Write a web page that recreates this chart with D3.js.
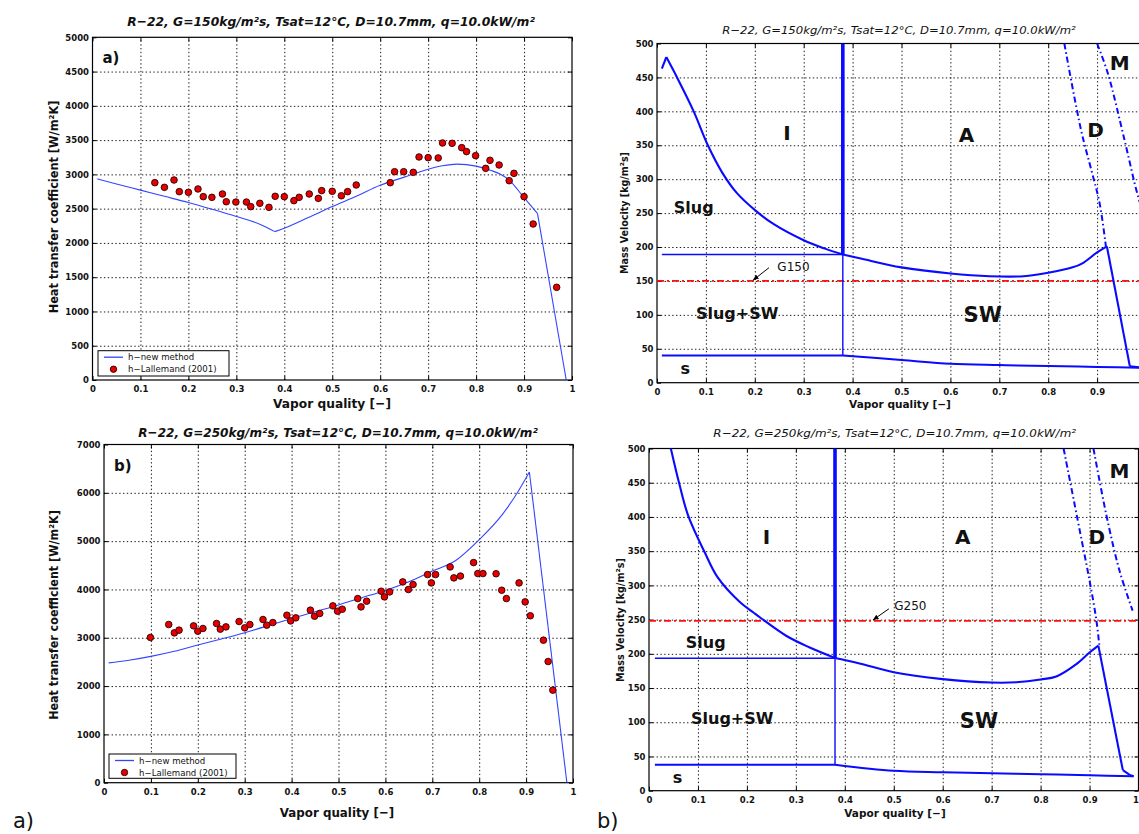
<!DOCTYPE html>
<html>
<head>
<meta charset="utf-8">
<script src="https://cdn.jsdelivr.net/npm/d3@7"></script>
<style>
body { margin: 0; background: #fff; }
svg { display: block; }
text { font-family: "DejaVu Sans", sans-serif; fill: #111; }
</style>
</head>
<body>
<svg id="fig" width="1139" height="834"></svg>
<script>
// ---- data ----
var qualityTicks = [0, 0.1, 0.2, 0.3, 0.4, 0.5, 0.6, 0.7, 0.8, 0.9, 1];
var hTicks150 = [0, 500, 1000, 1500, 2000, 2500, 3000, 3500, 4000, 4500, 5000];
var hTicks250 = [0, 1000, 2000, 3000, 4000, 5000, 6000, 7000];
var gTicks = [0, 50, 100, 150, 200, 250, 300, 350, 400, 450, 500];

// h-new method (G=150)
var hNew150 = [[0.01, 2935], [0.05, 2860], [0.1, 2770], [0.15, 2680], [0.2, 2590], [0.25, 2490],
  [0.3, 2385], [0.35, 2270], [0.38, 2165], [0.4, 2215], [0.45, 2370], [0.5, 2530], [0.55, 2680],
  [0.6, 2840], [0.65, 2960], [0.7, 3075], [0.73, 3125], [0.76, 3150], [0.8, 3120], [0.83, 3060],
  [0.85, 3005], [0.87, 2910], [0.9, 2660], [0.928, 2430], [0.988, 0]];
var hNewKinks150 = [0.38, 0.928];
// h-Lallemand (2001), G=150
var lallemand150 = [[0.130, 2879], [0.150, 2811], [0.170, 2918], [0.181, 2748], [0.200, 2738],
  [0.220, 2787], [0.231, 2675], [0.249, 2665], [0.271, 2714], [0.279, 2601], [0.299, 2596],
  [0.321, 2596], [0.330, 2529], [0.349, 2578], [0.368, 2519], [0.381, 2680], [0.400, 2675],
  [0.420, 2617], [0.431, 2665], [0.452, 2714], [0.471, 2650], [0.478, 2763], [0.500, 2753],
  [0.519, 2688], [0.532, 2748], [0.550, 2845], [0.621, 2879], [0.630, 3039], [0.649, 3039],
  [0.669, 3030], [0.681, 3254], [0.700, 3244], [0.721, 3240], [0.730, 3458], [0.750, 3453],
  [0.770, 3390], [0.780, 3332], [0.799, 3273], [0.820, 3088], [0.829, 3205], [0.848, 3137],
  [0.869, 2908], [0.879, 3015], [0.900, 2675], [0.919, 2276], [0.968, 1352]];

// h-new method (G=250)
var hNew250 = [[0.01, 2480], [0.05, 2530], [0.1, 2615], [0.15, 2720], [0.2, 2850], [0.25, 2975],
  [0.3, 3105], [0.35, 3250], [0.4, 3400], [0.45, 3540], [0.5, 3680], [0.55, 3830], [0.6, 3980],
  [0.65, 4160], [0.7, 4380], [0.75, 4600], [0.8, 5030], [0.85, 5560], [0.88, 5980], [0.907, 6430],
  [0.987, 0]];
var hNewKinks250 = [0.907];
var lallemand250 = [[0.099, 3006], [0.138, 3274], [0.150, 3101], [0.160, 3157], [0.191, 3246],
  [0.200, 3136], [0.211, 3192], [0.240, 3295], [0.248, 3178], [0.260, 3225], [0.288, 3336],
  [0.300, 3205], [0.311, 3274], [0.339, 3378], [0.347, 3260], [0.360, 3315], [0.390, 3467],
  [0.398, 3349], [0.409, 3412], [0.440, 3571], [0.449, 3446], [0.460, 3502], [0.488, 3660],
  [0.498, 3550], [0.508, 3591], [0.541, 3811], [0.548, 3639], [0.560, 3757], [0.591, 3963],
  [0.598, 3846], [0.609, 3949], [0.637, 4156], [0.649, 3998], [0.659, 4102], [0.690, 4308],
  [0.698, 4135], [0.707, 4308], [0.738, 4466], [0.746, 4239], [0.760, 4277], [0.788, 4556],
  [0.797, 4329], [0.808, 4329], [0.836, 4325], [0.848, 3984], [0.858, 3811], [0.885, 4135],
  [0.898, 3742], [0.909, 3455], [0.937, 2950], [0.947, 2508], [0.957, 1916]];

// flow pattern map, G=150
var slugCurve150 = [[0.01, 463], [0.019, 480], [0.041, 450], [0.075, 400], [0.104, 350], [0.134, 309],
  [0.164, 279], [0.201, 254], [0.238, 234], [0.3, 210], [0.342, 198], [0.38, 189]];
var swCurve150 = [[0.38, 189], [0.417, 183], [0.5, 170], [0.6, 161], [0.68, 157], [0.75, 157],
  [0.8, 162], [0.85, 170], [0.87, 176], [0.9, 192], [0.92, 201], [0.967, 24], [1.0, 22]];
var stratCurve150 = [[0.01, 40], [0.38, 40], [0.5, 33.5], [0.6, 28], [0.7, 26], [0.8, 24.5],
  [0.9, 23.3], [1.0, 22]];
var slugLine150 = [[0.01, 189], [0.38, 189]];
var slugSwLine150 = [[0.38, 40], [0.38, 189]];
var iaLine150 = [[0.38, 189], [0.38, 500]];
var dryout150 = [[0.833, 500], [0.867, 373], [0.888, 314], [0.905, 265], [0.918, 201]];
var mist150 = [[0.9, 500], [0.922, 456], [0.956, 358], [0.984, 274], [1.0, 240]];
var gLine150 = [[0, 150], [1, 150]];
var kinks150 = [0.019, 0.38, 0.92, 0.967];
var regimes150 = [["I", 0.266, 368], ["A", 0.633, 365], ["D", 0.897, 372], ["M", 0.946, 471],
  ["Slug", 0.075, 259], ["Slug+SW", 0.164, 102], ["SW", 0.666, 100], ["s", 0.058, 21]];
var gNote150 = ["G150", 0.279, 171, 0.229, 169.5, 0.197, 151.4];

// flow pattern map, G=250
var slugCurve250 = [[0.0446, 500], [0.062, 448], [0.08, 402], [0.114, 348], [0.14, 312],
  [0.185, 276], [0.214, 260], [0.229, 252], [0.281, 226], [0.326, 210], [0.38, 194]];
var swCurve250 = [[0.38, 194], [0.43, 186], [0.5, 173], [0.6, 163], [0.7, 158], [0.75, 158.4],
  [0.8, 162.5], [0.832, 167], [0.873, 185], [0.9, 202], [0.918, 212], [0.968, 30], [0.982, 23],
  [0.99, 21]];
var stratCurve250 = [[0.012, 38], [0.38, 38], [0.5, 29], [0.6, 27], [0.7, 25.5], [0.8, 24],
  [0.9, 22.5], [0.99, 21]];
var slugLine250 = [[0.012, 193.5], [0.38, 193.5]];
var slugSwLine250 = [[0.38, 38], [0.38, 193.5]];
var iaLine250 = [[0.38, 194], [0.38, 500]];
var dryout250 = [[0.847, 500], [0.88, 380], [0.9, 307], [0.914, 249], [0.92, 212]];
var mist250 = [[0.908, 500], [0.934, 404], [0.961, 322], [0.988, 263]];
var gLine250 = [[0, 248], [1, 248]];
var kinks250 = [0.38, 0.918, 0.968, 0.982];
var regimes250 = [["I", 0.240, 370], ["A", 0.641, 370], ["D", 0.915, 370], ["M", 0.961, 467],
  ["Slug", 0.116, 217], ["Slug+SW", 0.170, 105], ["SW", 0.674, 103], ["s", 0.058, 20]];
var gNote250 = ["G250", 0.534, 270.5, 0.49, 265.7, 0.458, 249.7];

// ---- drawing ----
var W = 1139;
var svg = d3.select("#fig");
var defs = svg.append("defs");
defs.append("marker").attr("id", "arrow").attr("viewBox", "0 0 10 10")
    .attr("refX", 9).attr("refY", 5).attr("markerWidth", 6).attr("markerHeight", 6)
    .attr("orient", "auto")
  .append("path").attr("d", "M0,1 L10,5 L0,9 z").attr("fill", "#000");

var regimeSize = { "I": 20, "A": 20, "D": 20, "M": 20, "Slug": 16, "Slug+SW": 16, "SW": 21, "s": 16 };

// break a series at sharp corners so the smoothing keeps them sharp
function pieces(data, kinks) {
    var out = [[]];
    data.forEach(function (d, i) {
        out[out.length - 1].push(d);
        if (i > 0 && i < data.length - 1 && kinks.indexOf(d[0]) >= 0) out.push([d]);
    });
    return out;
}

function fitText(g, str, cx, cy, width, size, weight, style, rotate) {
    var t = g.append("text")
        .attr("text-anchor", "middle")
        .attr("dy", "0.35em")
        .attr("font-size", size)
        .attr("font-weight", weight || "normal")
        .attr("font-style", style || "normal")
        .text(str);
    var k = width / t.node().getComputedTextLength();
    t.attr("transform", "translate(" + cx + "," + cy + ") rotate(" + (rotate || 0) + ") scale(" + k + ",1)");
    return t;
}

function gridStyle(s) {
    s.select(".domain").remove();
    s.selectAll("line").attr("stroke", "#000").attr("stroke-width", 0.9).attr("stroke-dasharray", "1.4,2.4");
}
function tickStyle(s) {
    s.select(".domain").remove();
    s.selectAll("line").attr("stroke", "#000").attr("stroke-width", 1);
}
function labelStyle(s) {
    s.select(".domain").remove();
    s.attr("font-family", "DejaVu Sans").attr("font-size", 8.5).attr("font-weight", "bold");
    s.selectAll("text").attr("fill", "#222");
}

function drawFrame(p, id) {
    var x = d3.scaleLinear().domain([0, 1]).range([p.left, p.right]);
    var y = d3.scaleLinear().domain([0, p.yTicks[p.yTicks.length - 1]]).range([p.bottom, p.top]);
    var w = p.right - p.left, h = p.bottom - p.top;
    var g = svg.append("g");

    defs.append("clipPath").attr("id", id)
      .append("rect").attr("x", p.left).attr("y", p.top).attr("width", w).attr("height", h);

    var inner = qualityTicks.filter(function (d) { return d > 0 && d < 1; });
    var innerY = p.yTicks.slice(1, -1);
    g.append("g").attr("transform", "translate(0," + p.bottom + ")")
        .call(d3.axisBottom(x).tickValues(inner).tickSize(-h).tickFormat("")).call(gridStyle);
    g.append("g").attr("transform", "translate(" + p.left + ",0)")
        .call(d3.axisLeft(y).tickValues(innerY).tickSize(-w).tickFormat("")).call(gridStyle);

    // inward ticks like the original
    g.append("g").attr("transform", "translate(0," + p.bottom + ")")
        .call(d3.axisBottom(x).tickValues(qualityTicks).tickSize(-4).tickFormat("")).call(tickStyle);
    g.append("g").attr("transform", "translate(0," + p.top + ")")
        .call(d3.axisTop(x).tickValues(qualityTicks).tickSize(-4).tickFormat("")).call(tickStyle);
    g.append("g").attr("transform", "translate(" + p.left + ",0)")
        .call(d3.axisLeft(y).tickValues(p.yTicks).tickSize(-4).tickFormat("")).call(tickStyle);
    g.append("g").attr("transform", "translate(" + p.right + ",0)")
        .call(d3.axisRight(y).tickValues(p.yTicks).tickSize(-4).tickFormat("")).call(tickStyle);

    g.append("rect").attr("x", p.left).attr("y", p.top).attr("width", w).attr("height", h)
        .attr("fill", "none").attr("stroke", "#000").attr("stroke-width", 1.2);

    var xl = g.append("g").attr("transform", "translate(0," + p.bottom + ")")
        .call(d3.axisBottom(x).tickValues(qualityTicks).tickSize(0).tickPadding(6)
            .tickFormat(function (d) { return d === 0 ? "0" : d === 1 ? "1" : d3.format(".1f")(d); }))
        .call(labelStyle);
    // the figure is cut at the right edge: drop labels beyond it, pull a partly cut one inside
    xl.selectAll("text").each(function () {
        var b = this.getBoundingClientRect();
        if (b.left >= W - 1) d3.select(this).remove();
        else if (b.right > W) d3.select(this).attr("x", W - b.right);
    });
    g.append("g").attr("transform", "translate(" + p.left + ",0)")
        .call(d3.axisLeft(y).tickValues(p.yTicks).tickSize(0).tickPadding(3.5))
        .call(labelStyle)
        .selectAll("text").text(function (d) { return d; });

    fitText(g, p.title, p.titleX, p.titleY, p.titleW, p.titleSize, p.titleWeight, "italic");
    fitText(g, p.ylabel, p.ylabX, p.ylabY, p.ylabW, p.ylabSize, "bold", "normal", -90);
    fitText(g, "Vapor quality [\u2212]", p.xlabX, p.xlabY, p.xlabW, p.xlabSize, "bold");

    var plot = g.append("g").attr("clip-path", "url(#" + id + ")");
    return { x: x, y: y, g: g, plot: plot };
}

function hPanel(p, id, model, kinks, points, tag) {
    var f = drawFrame(p, id);
    var line = d3.line().curve(d3.curveMonotoneX)
        .x(function (d) { return f.x(d[0]); }).y(function (d) { return f.y(d[1]); });
    f.plot.selectAll("path.model").data(pieces(model, kinks)).join("path").attr("class", "model")
        .attr("d", line)
        .attr("fill", "none").attr("stroke", "#3344ff").attr("stroke-width", 1.1);
    f.plot.selectAll("circle").data(points).join("circle")
        .attr("cx", function (d) { return f.x(d[0]); })
        .attr("cy", function (d) { return f.y(d[1]); })
        .attr("r", 3.3)
        .attr("fill", "#e80000").attr("stroke", "#2a0000").attr("stroke-width", 0.9);

    f.g.append("text").attr("x", p.left + 10).attr("y", p.top + 26)
        .attr("font-size", 15).attr("font-weight", "bold").text(tag);

    // legend
    var L = p.legend;
    var lg = f.g.append("g");
    lg.append("rect").attr("x", L.x).attr("y", L.y).attr("width", L.w).attr("height", L.h)
        .attr("fill", "#fff").attr("stroke", "#000").attr("stroke-width", 1);
    lg.append("line").attr("x1", L.x + 6).attr("x2", L.x + 25).attr("y1", L.y + 6.5).attr("y2", L.y + 6.5)
        .attr("stroke", "#3344ff").attr("stroke-width", 1.3);
    lg.append("circle").attr("cx", L.x + 15.5).attr("cy", L.y + 18.5).attr("r", 3.2)
        .attr("fill", "#e80000").attr("stroke", "#2a0000").attr("stroke-width", 0.9);
    lg.append("text").attr("x", L.x + 30).attr("y", L.y + 6.5).attr("dy", "0.35em")
        .attr("font-size", 8.6).attr("fill", "#222").text("h\u2212new method");
    lg.append("text").attr("x", L.x + 30).attr("y", L.y + 18.5).attr("dy", "0.35em")
        .attr("font-size", 8.6).attr("fill", "#222").text("h\u2212Lallemand (2001)");
}

function mapPanel(p, id, d) {
    var f = drawFrame(p, id);
    var line = d3.line().curve(d3.curveCatmullRom.alpha(0.5))
        .x(function (v) { return f.x(v[0]); }).y(function (v) { return f.y(v[1]); });
    function path(data, width, dash, color) {
        pieces(data, d.kinks).forEach(function (part) {
            f.plot.append("path").datum(part).attr("d", line).attr("fill", "none")
                .attr("stroke", color || "#0a0aff").attr("stroke-width", width)
                .attr("stroke-dasharray", dash || null).attr("stroke-linejoin", "round");
        });
    }
    path(d.gLine, 1.8, "7,3,2,3", "#ff1010");
    path(d.slugLine, 1.4);
    path(d.slugSwLine, 1.4);
    path(d.iaLine, 3.6);
    path(d.slugCurve, 2.1);
    path(d.swCurve, 2.1);
    path(d.stratCurve, 2);
    path(d.dryout, 2, "6,3,1.5,3");
    path(d.mist, 2, "6,3,1.5,3");

    f.g.selectAll("text.regime").data(d.regimes).join("text").attr("class", "regime")
        .attr("x", function (r) { return f.x(r[1]); })
        .attr("y", function (r) { return f.y(r[2]); })
        .attr("dy", "0.35em").attr("text-anchor", "middle")
        .attr("font-size", function (r) { return regimeSize[r[0]]; })
        .attr("font-weight", "bold").attr("fill", "#000")
        .text(function (r) { return r[0]; });

    var n = d.note;
    f.g.append("text").attr("x", f.x(n[1])).attr("y", f.y(n[2])).attr("dy", "0.35em")
        .attr("text-anchor", "middle").attr("font-size", 12).attr("fill", "#000").text(n[0]);
    f.g.append("line").attr("x1", f.x(n[3])).attr("y1", f.y(n[4]))
        .attr("x2", f.x(n[5])).attr("y2", f.y(n[6]))
        .attr("stroke", "#000").attr("stroke-width", 1).attr("marker-end", "url(#arrow)");
}

var title150 = "R\u221222, G=150kg/m\u00b2s, Tsat=12\u00b0C, D=10.7mm, q=10.0kW/m\u00b2";
var title250 = "R\u221222, G=250kg/m\u00b2s, Tsat=12\u00b0C, D=10.7mm, q=10.0kW/m\u00b2";
var hLabel = "Heat transfer coefficient [W/m\u00b2K]";
var gLabel = "Mass Velocity [kg/m\u00b2s]";

hPanel({ left: 92.5, right: 572, top: 37.3, bottom: 380, yTicks: hTicks150,
    title: title150, titleX: 331, titleY: 21.5, titleW: 408, titleSize: 13, titleWeight: "bold",
    ylabel: hLabel, ylabX: 54, ylabY: 207, ylabW: 213, ylabSize: 12,
    xlabX: 332, xlabY: 403, xlabW: 118, xlabSize: 13,
    legend: { x: 98, y: 350.7, w: 131, h: 25.3 } }, "clipA", hNew150, hNewKinks150, lallemand150, "a)");

hPanel({ left: 104, right: 573, top: 444.5, bottom: 782.7, yTicks: hTicks250,
    title: title250, titleX: 338, titleY: 432.5, titleW: 400, titleSize: 13, titleWeight: "bold",
    ylabel: hLabel, ylabX: 54, ylabY: 615, ylabW: 210, ylabSize: 12,
    xlabX: 337, xlabY: 812.5, xlabW: 114.5, xlabSize: 13,
    legend: { x: 109, y: 754, w: 127, h: 24.3 } }, "clipB", hNew250, hNewKinks250, lallemand250, "b)");

mapPanel({ left: 657, right: 1146, top: 43.5, bottom: 382.7, yTicks: gTicks,
    title: title150, titleX: 899, titleY: 30, titleW: 354, titleSize: 11, titleWeight: "normal",
    ylabel: gLabel, ylabX: 624.4, ylabY: 213, ylabW: 122, ylabSize: 10,
    xlabX: 900, xlabY: 404, xlabW: 102, xlabSize: 11 }, "clipC",
  { slugCurve: slugCurve150, swCurve: swCurve150, stratCurve: stratCurve150, slugLine: slugLine150,
    slugSwLine: slugSwLine150, iaLine: iaLine150, dryout: dryout150, mist: mist150,
    gLine: gLine150, kinks: kinks150, regimes: regimes150, note: gNote150 });

mapPanel({ left: 649, right: 1138.5, top: 448.5, bottom: 790.7, yTicks: gTicks,
    title: title250, titleX: 894.7, titleY: 433.5, titleW: 363, titleSize: 11, titleWeight: "normal",
    ylabel: gLabel, ylabX: 620.8, ylabY: 620, ylabW: 124, ylabSize: 10,
    xlabX: 895, xlabY: 813, xlabW: 101.5, xlabSize: 11 }, "clipD",
  { slugCurve: slugCurve250, swCurve: swCurve250, stratCurve: stratCurve250, slugLine: slugLine250,
    slugSwLine: slugSwLine250, iaLine: iaLine250, dryout: dryout250, mist: mist250,
    gLine: gLine250, kinks: kinks250, regimes: regimes250, note: gNote250 });

// figure captions
svg.append("text").attr("x", 13).attr("y", 828).attr("font-family", "Liberation Serif")
    .attr("font-size", 21).attr("fill", "#000").text("a)");
svg.append("text").attr("x", 597).attr("y", 828).attr("font-family", "Liberation Serif")
    .attr("font-size", 21).attr("fill", "#000").text("b)");
</script>
</body>
</html>
